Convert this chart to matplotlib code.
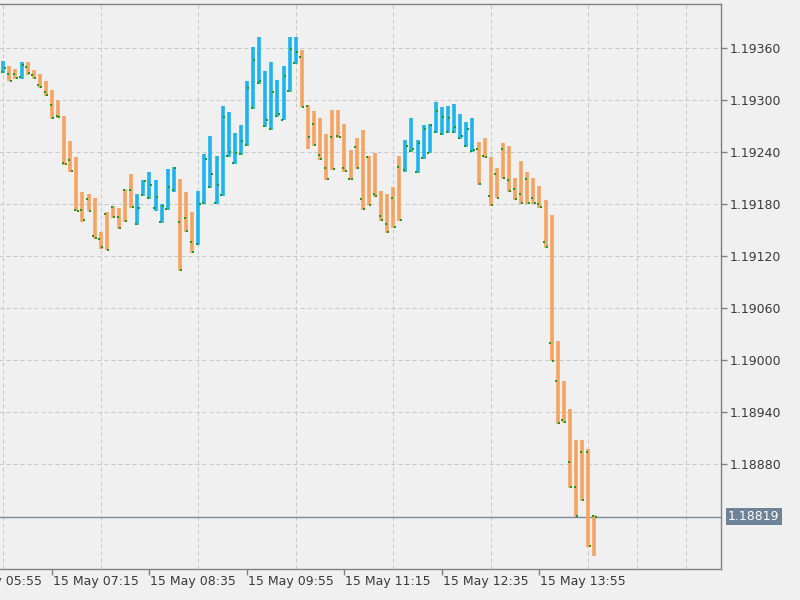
import matplotlib
matplotlib.use("Agg")
import matplotlib.pyplot as plt
import numpy as np
import pandas as pd
from matplotlib.ticker import FixedLocator, MultipleLocator, NullFormatter

# ---------------- data (M5 bars) ----------------
start_time = "2021-05-15 06:35"
bar_minutes = 5

opens = [1.19332, 1.19330, 1.19330, 1.19326, 1.19338, 1.19329, 1.19317, 1.19309, 1.19294, 1.19281,
         1.19227, 1.19230, 1.19173, 1.19173, 1.19185, 1.19143, 1.19139, 1.19168, 1.19176, 1.19165,
         1.19196, 1.19196, 1.19157, 1.19190, 1.19187, 1.19175, 1.19159, 1.19174, 1.19196, 1.19159,
         1.19164, 1.19136, 1.19133, 1.19181, 1.19199, 1.19181, 1.19190, 1.19235, 1.19227, 1.19237,
         1.19248, 1.19290, 1.19319, 1.19270, 1.19266, 1.19281, 1.19277, 1.19310, 1.19342, 1.19349,
         1.19293, 1.19272, 1.19236, 1.19221, 1.19257, 1.19258, 1.19221, 1.19209, 1.19245, 1.19185,
         1.19234, 1.19191, 1.19166, 1.19157, 1.19187, 1.19222, 1.19219, 1.19241, 1.19216, 1.19233,
         1.19239, 1.19263, 1.19260, 1.19263, 1.19263, 1.19256, 1.19246, 1.19241, 1.19243, 1.19235,
         1.19189, 1.19214, 1.19243, 1.19207, 1.19197, 1.19191, 1.19208, 1.19187, 1.19180, 1.19136,
         1.19019, 1.18975, 1.18930, 1.18882, 1.18853, 1.18894, 1.18894, 1.18820]

highs = [1.19345, 1.19339, 1.19335, 1.19344, 1.19343, 1.19334, 1.19330, 1.19322, 1.19311, 1.19300,
         1.19281, 1.19252, 1.19234, 1.19193, 1.19191, 1.19186, 1.19147, 1.19170, 1.19177, 1.19175,
         1.19197, 1.19214, 1.19191, 1.19207, 1.19216, 1.19207, 1.19180, 1.19220, 1.19222, 1.19208,
         1.19193, 1.19170, 1.19195, 1.19237, 1.19258, 1.19235, 1.19293, 1.19286, 1.19262, 1.19271,
         1.19322, 1.19361, 1.19372, 1.19333, 1.19343, 1.19323, 1.19339, 1.19372, 1.19372, 1.19357,
         1.19294, 1.19287, 1.19279, 1.19260, 1.19288, 1.19288, 1.19272, 1.19242, 1.19256, 1.19265,
         1.19235, 1.19239, 1.19195, 1.19191, 1.19199, 1.19235, 1.19253, 1.19279, 1.19253, 1.19271,
         1.19272, 1.19297, 1.19291, 1.19293, 1.19295, 1.19284, 1.19274, 1.19279, 1.19251, 1.19256,
         1.19234, 1.19221, 1.19250, 1.19246, 1.19210, 1.19229, 1.19216, 1.19210, 1.19200, 1.19184,
         1.19167, 1.19021, 1.18975, 1.18943, 1.18907, 1.18907, 1.18897, 1.18821]

lows = [1.19331, 1.19321, 1.19324, 1.19324, 1.19329, 1.19324, 1.19314, 1.19304, 1.19278, 1.19279,
        1.19225, 1.19217, 1.19171, 1.19159, 1.19171, 1.19139, 1.19128, 1.19126, 1.19164, 1.19151,
        1.19159, 1.19175, 1.19155, 1.19189, 1.19185, 1.19172, 1.19158, 1.19173, 1.19194, 1.19102,
        1.19147, 1.19123, 1.19132, 1.19180, 1.19198, 1.19180, 1.19189, 1.19234, 1.19226, 1.19236,
        1.19247, 1.19289, 1.19318, 1.19269, 1.19265, 1.19280, 1.19276, 1.19309, 1.19341, 1.19291,
        1.19243, 1.19247, 1.19230, 1.19207, 1.19219, 1.19256, 1.19217, 1.19207, 1.19220, 1.19173,
        1.19178, 1.19188, 1.19160, 1.19146, 1.19152, 1.19160, 1.19217, 1.19240, 1.19215, 1.19232,
        1.19238, 1.19262, 1.19259, 1.19262, 1.19262, 1.19255, 1.19245, 1.19240, 1.19202, 1.19233,
        1.19177, 1.19186, 1.19209, 1.19194, 1.19184, 1.19180, 1.19180, 1.19180, 1.19175, 1.19129,
        1.18998, 1.18926, 1.18927, 1.18852, 1.18819, 1.18837, 1.18784, 1.18773]

closes = [1.19337, 1.19322, 1.19325, 1.19340, 1.19331, 1.19325, 1.19315, 1.19305, 1.19279, 1.19280,
          1.19226, 1.19218, 1.19172, 1.19161, 1.19172, 1.19140, 1.19130, 1.19127, 1.19165, 1.19152,
          1.19160, 1.19176, 1.19175, 1.19206, 1.19202, 1.19188, 1.19177, 1.19199, 1.19221, 1.19103,
          1.19148, 1.19124, 1.19180, 1.19232, 1.19214, 1.19201, 1.19280, 1.19240, 1.19238, 1.19252,
          1.19314, 1.19346, 1.19321, 1.19277, 1.19309, 1.19283, 1.19327, 1.19358, 1.19355, 1.19292,
          1.19257, 1.19248, 1.19231, 1.19208, 1.19220, 1.19257, 1.19218, 1.19208, 1.19221, 1.19174,
          1.19179, 1.19189, 1.19161, 1.19147, 1.19153, 1.19161, 1.19247, 1.19243, 1.19250, 1.19266,
          1.19271, 1.19287, 1.19280, 1.19279, 1.19269, 1.19258, 1.19266, 1.19242, 1.19203, 1.19234,
          1.19178, 1.19187, 1.19210, 1.19195, 1.19185, 1.19181, 1.19181, 1.19181, 1.19176, 1.19130,
          1.18999, 1.18927, 1.18928, 1.18853, 1.18820, 1.18838, 1.18785, 1.18819]

x_tick_times = ["2021-05-15 05:55", "2021-05-15 07:15", "2021-05-15 08:35", "2021-05-15 09:55",
                "2021-05-15 11:15", "2021-05-15 12:35", "2021-05-15 13:55"]
x_tick_labels = ["15 May 05:55", "15 May 07:15", "15 May 08:35", "15 May 09:55",
                 "15 May 11:15", "15 May 12:35", "15 May 13:55"]
y_ticks = [1.18880, 1.18940, 1.19000, 1.19060, 1.19120, 1.19180, 1.19240, 1.19300, 1.19360]
y_tick_labels = ["1.18880", "1.18940", "1.19000", "1.19060", "1.19120",
                 "1.19180", "1.19240", "1.19300", "1.19360"]

# ---------------- style ----------------
BG = "#F0F0F0"
UP = "#1DB4EE"
DOWN = "#F4A460"
DOT = "#1E9A1E"
GRID = "#C8C8C8"
FRAME = "#808080"
PRICE = "#7A8A9C"
PRICE_BOX = "#6F8398"
TEXT = "#3A3A3A"

plt.rcParams["font.family"] = ["DejaVu Sans"]

fig = plt.figure(figsize=(8, 6), dpi=100, facecolor=BG)
ax = fig.add_axes([-4 / 800, 31 / 600, 725 / 800, 565 / 600])
ax.set_facecolor(BG)

o = np.array(opens); h = np.array(highs); l = np.array(lows); c = np.array(closes)
idx = np.arange(len(o))
bar_times = pd.date_range(start_time, periods=len(o), freq=f"{bar_minutes}min")
colors = [UP if cc > oo else DOWN for oo, cc in zip(o, c)]

ax.vlines(idx, l, h, colors=colors, linewidth=2.6, capstyle="butt", zorder=3)
ax.plot(idx - 0.22, o, "s", ms=1.6, mew=0, color=DOT, zorder=4)
ax.plot(idx + 0.22, c, "s", ms=1.6, mew=0, color=DOT, zorder=4)

ax.set_xlim(-1.19, 117.8)
ax.set_ylim(1.187585, 1.194104)

# x ticks from times
t0 = bar_times[0]
tick_pos = [(pd.Timestamp(t) - t0) / pd.Timedelta(minutes=bar_minutes) for t in x_tick_times]
ax.xaxis.set_major_locator(FixedLocator(tick_pos))
ax.xaxis.set_major_formatter(NullFormatter())
ax.xaxis.set_minor_locator(MultipleLocator(8))
ax.tick_params(axis="x", which="major", direction="out", length=4, width=1, color=FRAME)
ax.tick_params(axis="x", which="minor", length=0)
for pos, lab in zip(tick_pos, x_tick_labels):
    ax.annotate(lab, xy=(pos, 0), xycoords=ax.get_xaxis_transform(),
                xytext=(1, -6), textcoords="offset pixels", ha="left", va="top",
                fontsize=9, color=TEXT, annotation_clip=False)

# y ticks on the right
ax.yaxis.tick_right()
ax.set_yticks(y_ticks)
ax.set_yticklabels(y_tick_labels)
ax.tick_params(axis="y", direction="out", length=4, width=1, color=FRAME,
               pad=2, labelsize=9, labelcolor=TEXT)

# grid
grid_kw = dict(color=GRID, linewidth=0.72, linestyle=(0, (4, 3)))
ax.grid(True, axis="x", which="minor", **grid_kw)
ax.grid(True, axis="y", which="major", **grid_kw)
ax.set_axisbelow(True)

for side in ["top", "right", "bottom"]:
    ax.spines[side].set_color(FRAME)
    ax.spines[side].set_linewidth(1.0)
ax.spines["left"].set_visible(False)

# current price line and label
last = closes[-1]
ax.axhline(last, color=PRICE, linewidth=1.0, zorder=2)
ax.annotate(f"{last:.5f}", xy=(1, last), xycoords=ax.get_yaxis_transform(),
            xytext=(7, 0), textcoords="offset pixels", ha="left", va="center",
            fontsize=9, color="white", annotation_clip=False,
            bbox=dict(boxstyle="square,pad=0.18", fc=PRICE_BOX, ec="none"))

fig.savefig("out.png", dpi=100, facecolor=BG)
